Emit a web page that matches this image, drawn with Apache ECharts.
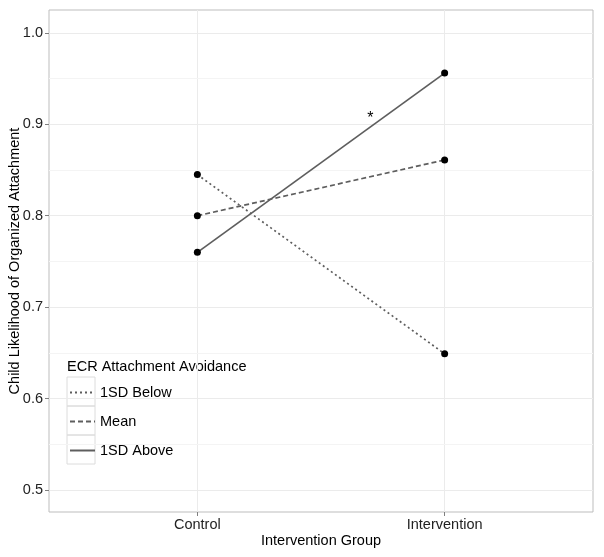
<!DOCTYPE html>
<html><head><meta charset="utf-8">
<script src="https://cdn.jsdelivr.net/npm/echarts@6/dist/echarts.min.js"></script>
<style>html,body{margin:0;padding:0;background:#fff}#c{width:604px;height:557px}</style>
</head><body><div id="c"></div>
<script>
const groups = ['Control', 'Intervention'];
const groupPos = [1, 2];
const below = [0.845, 0.649];
const mean = [0.800, 0.861];
const above = [0.760, 0.956];
const seriesNames = ['1SD Below', 'Mean', '1SD Above'];
const yTicks = [0.5, 0.6, 0.7, 0.8, 0.9, 1.0];
const yMinor = [0.55, 0.65, 0.75, 0.85, 0.95];
const sigMark = {x: 1.7, y: 0.906, text: '*'};

const font = 'Helvetica, "Liberation Sans", Arial, sans-serif';
const fs = 14.5;
const lineColor = '#5e5e5e';
function mk(name, vals, type) {
  return {
    name: name, type: 'line',
    data: groupPos.map((p, i) => [p, vals[i]]),
    symbol: 'circle', symbolSize: 7,
    itemStyle: {color: '#000'},
    lineStyle: {color: lineColor, width: 1.7, type: type},
    z: 5
  };
}
const chart = echarts.init(document.getElementById('c'), null, {renderer: 'canvas'});
const series = [
  mk(seriesNames[0], below, [2, 3]),
  mk(seriesNames[1], mean, [5, 3]),
  mk(seriesNames[2], above, 'solid')
];
series.push({
  type: 'line', data: [], silent: true, z: 1,
  markLine: {
    silent: true, symbol: 'none', label: {show: false},
    lineStyle: {color: '#f4f4f4', width: 1, type: 'solid'},
    data: yMinor.map(v => ({yAxis: v}))
  },
  markPoint: {
    symbol: 'circle', symbolSize: 1, itemStyle: {color: 'rgba(0,0,0,0)'},
    label: {show: true, formatter: sigMark.text, color: '#000', fontSize: 16, fontFamily: font, position: 'inside'},
    data: [{coord: [sigMark.x, sigMark.y]}]
  }
});
chart.setOption({
  animation: false,
  backgroundColor: '#fff',
  grid: {left: 49, top: 10, right: 11, bottom: 45, outerBoundsMode: 'none', containLabel: false,
    show: true, borderColor: '#bdbdbd', borderWidth: 1, backgroundColor: '#fff'},
  xAxis: {
    type: 'value', min: 0.4, max: 2.6,
    name: 'Intervention Group', nameLocation: 'middle', nameGap: 21, nameMoveOverlap: false,
    nameTextStyle: {fontFamily: font, fontSize: fs, color: '#000'},
    axisLine: {show: false},
    axisTick: {show: true, customValues: groupPos, length: 4, lineStyle: {color: '#7f7f7f'}},
    axisLabel: {customValues: groupPos, margin: 5, fontFamily: font, fontSize: fs, color: '#222',
      formatter: v => groups[groupPos.indexOf(v)] || ''},
    splitLine: {show: true, lineStyle: {color: '#ebebeb', width: 1}}
  },
  yAxis: {
    type: 'value', min: 0.476, max: 1.025,
    name: 'Child Likelihood of Organized Attachment', nameLocation: 'middle', nameGap: 27, nameMoveOverlap: false,
    nameTextStyle: {fontFamily: font, fontSize: fs, color: '#000'},
    axisLine: {show: false},
    axisTick: {show: true, customValues: yTicks, length: 4, lineStyle: {color: '#7f7f7f'}},
    axisLabel: {customValues: yTicks, margin: 6, fontFamily: font, fontSize: fs, color: '#222',
      formatter: v => v.toFixed(1)},
    splitLine: {show: true, lineStyle: {color: '#ebebeb', width: 1}}
  },
  legend: {
    data: seriesNames, orient: 'vertical', left: 69, top: 385, padding: 0,
    itemWidth: 25, itemHeight: 14, itemGap: 14,
    textStyle: {fontFamily: font, fontSize: fs, color: '#000'},
    itemStyle: {opacity: 0}
  },
  graphic: [
    {type: 'text', left: 67, top: 359, style: {text: 'ECR Attachment Avoidance', font: fs + 'px ' + font, fill: '#000'}},
    {type: 'rect', shape: {x: 67, y: 377, width: 28, height: 29}, style: {fill: 'none', stroke: '#dcdcdc', lineWidth: 1}, z: 0},
    {type: 'rect', shape: {x: 67, y: 406, width: 28, height: 29}, style: {fill: 'none', stroke: '#dcdcdc', lineWidth: 1}, z: 0},
    {type: 'rect', shape: {x: 67, y: 435, width: 28, height: 29}, style: {fill: 'none', stroke: '#dcdcdc', lineWidth: 1}, z: 0}
  ],
  series: series
});
</script></body></html>
